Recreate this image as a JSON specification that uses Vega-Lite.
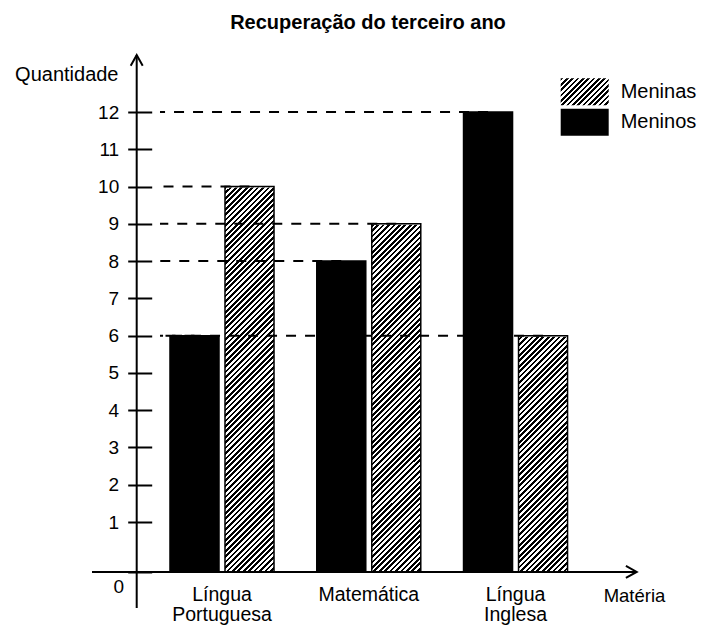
{
  "$schema": "https://vega.github.io/schema/vega-lite/v6.json",
  "width": 500,
  "height": 553,
  "autosize": {"type": "none"},
  "padding": {"left": 136.7, "top": 55, "right": 64.3, "bottom": 20},
  "title": {"text": "Recuperação do terceiro ano", "anchor": "middle", "frame": "group", "offset": 2, "baseline": "alphabetic", "dx": -18.7, "fontSize": 20, "font": "Liberation Sans", "fontWeight": "bold", "color": "#000"},
  "datasets": {
    "bars": [
      {"subject": "Língua Portuguesa", "gender": "Meninos", "value": 6},
      {"subject": "Língua Portuguesa", "gender": "Meninas", "value": 10},
      {"subject": "Matemática", "gender": "Meninos", "value": 8},
      {"subject": "Matemática", "gender": "Meninas", "value": 9},
      {"subject": "Língua Inglesa", "gender": "Meninos", "value": 12},
      {"subject": "Língua Inglesa", "gender": "Meninas", "value": 6}
    ]
  },
  "config": {"view": {"stroke": null}, "font": "Liberation Sans", "axis": {"labelColor": "#000", "titleColor": "#000"}, "legend": {"labelColor": "#000"}},
  "resolve": {"scale": {"x": "independent"}, "axis": {"x": "independent"}},
  "layer": [
    {
      "data": {"name": "bars"},
      "resolve": {"scale": {"strokeDash": "independent"}},
      "encoding": {
        "x": {"field": "subject", "type": "nominal", "scale": {"type": "band", "domain": ["Língua Portuguesa", "Matemática", "Língua Inglesa"], "paddingInner": 0.2913, "paddingOuter": 0.349, "align": 0.325},
          "axis": {"title": "Matéria", "orient": "bottom", "offset": -36, "domain": false, "ticks": false, "tickSize": 0, "labelAngle": 0, "labelExpr": "split(datum.label, ' ')", "labelFontSize": 19.5, "labelLineHeight": 20.5, "labelPadding": 13, "labelBaseline": "top", "labelColor": "#000", "titleFontSize": 18.5, "titleFontWeight": "normal", "titleX": 497.3, "titleY": 29.5, "titleAlign": "center", "titleBaseline": "alphabetic", "titleColor": "#000"}},
        "xOffset": {"field": "gender", "type": "nominal", "scale": {"domain": ["Meninos", "Meninas"], "paddingInner": 0.109, "paddingOuter": 0}}
      },
      "layer": [
        {
          "transform": [{"filter": "datum.gender === 'Meninas'"}],
          "mark": {"type": "bar", "strokeWidth": 0, "fill": {"gradient": "linear", "x1": 0, "y1": 0, "x2": 0.14103, "y2": 1.10923, "stops": [
            {"offset":0,"color":"#000"},{"offset":0.00625,"color":"#000"},{"offset":0.00625,"color":"#fff"},{"offset":0.0125,"color":"#fff"},{"offset":0.0125,"color":"#000"},{"offset":0.01875,"color":"#000"},{"offset":0.01875,"color":"#fff"},{"offset":0.025,"color":"#fff"},{"offset":0.025,"color":"#000"},{"offset":0.03125,"color":"#000"},{"offset":0.03125,"color":"#fff"},{"offset":0.0375,"color":"#fff"},{"offset":0.0375,"color":"#000"},{"offset":0.04375,"color":"#000"},{"offset":0.04375,"color":"#fff"},{"offset":0.05,"color":"#fff"},{"offset":0.05,"color":"#000"},{"offset":0.05625,"color":"#000"},{"offset":0.05625,"color":"#fff"},{"offset":0.0625,"color":"#fff"},{"offset":0.0625,"color":"#000"},{"offset":0.06875,"color":"#000"},{"offset":0.06875,"color":"#fff"},{"offset":0.075,"color":"#fff"},{"offset":0.075,"color":"#000"},{"offset":0.08125,"color":"#000"},{"offset":0.08125,"color":"#fff"},{"offset":0.0875,"color":"#fff"},{"offset":0.0875,"color":"#000"},{"offset":0.09375,"color":"#000"},{"offset":0.09375,"color":"#fff"},
            {"offset":0.1,"color":"#fff"},{"offset":0.1,"color":"#000"},{"offset":0.10625,"color":"#000"},{"offset":0.10625,"color":"#fff"},{"offset":0.1125,"color":"#fff"},{"offset":0.1125,"color":"#000"},{"offset":0.11875,"color":"#000"},{"offset":0.11875,"color":"#fff"},{"offset":0.125,"color":"#fff"},{"offset":0.125,"color":"#000"},{"offset":0.13125,"color":"#000"},{"offset":0.13125,"color":"#fff"},{"offset":0.1375,"color":"#fff"},{"offset":0.1375,"color":"#000"},{"offset":0.14375,"color":"#000"},{"offset":0.14375,"color":"#fff"},{"offset":0.15,"color":"#fff"},{"offset":0.15,"color":"#000"},{"offset":0.15625,"color":"#000"},{"offset":0.15625,"color":"#fff"},{"offset":0.1625,"color":"#fff"},{"offset":0.1625,"color":"#000"},{"offset":0.16875,"color":"#000"},{"offset":0.16875,"color":"#fff"},{"offset":0.175,"color":"#fff"},{"offset":0.175,"color":"#000"},{"offset":0.18125,"color":"#000"},{"offset":0.18125,"color":"#fff"},{"offset":0.1875,"color":"#fff"},{"offset":0.1875,"color":"#000"},{"offset":0.19375,"color":"#000"},{"offset":0.19375,"color":"#fff"},
            {"offset":0.2,"color":"#fff"},{"offset":0.2,"color":"#000"},{"offset":0.20625,"color":"#000"},{"offset":0.20625,"color":"#fff"},{"offset":0.2125,"color":"#fff"},{"offset":0.2125,"color":"#000"},{"offset":0.21875,"color":"#000"},{"offset":0.21875,"color":"#fff"},{"offset":0.225,"color":"#fff"},{"offset":0.225,"color":"#000"},{"offset":0.23125,"color":"#000"},{"offset":0.23125,"color":"#fff"},{"offset":0.2375,"color":"#fff"},{"offset":0.2375,"color":"#000"},{"offset":0.24375,"color":"#000"},{"offset":0.24375,"color":"#fff"},{"offset":0.25,"color":"#fff"},{"offset":0.25,"color":"#000"},{"offset":0.25625,"color":"#000"},{"offset":0.25625,"color":"#fff"},{"offset":0.2625,"color":"#fff"},{"offset":0.2625,"color":"#000"},{"offset":0.26875,"color":"#000"},{"offset":0.26875,"color":"#fff"},{"offset":0.275,"color":"#fff"},{"offset":0.275,"color":"#000"},{"offset":0.28125,"color":"#000"},{"offset":0.28125,"color":"#fff"},{"offset":0.2875,"color":"#fff"},{"offset":0.2875,"color":"#000"},{"offset":0.29375,"color":"#000"},{"offset":0.29375,"color":"#fff"},
            {"offset":0.3,"color":"#fff"},{"offset":0.3,"color":"#000"},{"offset":0.30625,"color":"#000"},{"offset":0.30625,"color":"#fff"},{"offset":0.3125,"color":"#fff"},{"offset":0.3125,"color":"#000"},{"offset":0.31875,"color":"#000"},{"offset":0.31875,"color":"#fff"},{"offset":0.325,"color":"#fff"},{"offset":0.325,"color":"#000"},{"offset":0.33125,"color":"#000"},{"offset":0.33125,"color":"#fff"},{"offset":0.3375,"color":"#fff"},{"offset":0.3375,"color":"#000"},{"offset":0.34375,"color":"#000"},{"offset":0.34375,"color":"#fff"},{"offset":0.35,"color":"#fff"},{"offset":0.35,"color":"#000"},{"offset":0.35625,"color":"#000"},{"offset":0.35625,"color":"#fff"},{"offset":0.3625,"color":"#fff"},{"offset":0.3625,"color":"#000"},{"offset":0.36875,"color":"#000"},{"offset":0.36875,"color":"#fff"},{"offset":0.375,"color":"#fff"},{"offset":0.375,"color":"#000"},{"offset":0.38125,"color":"#000"},{"offset":0.38125,"color":"#fff"},{"offset":0.3875,"color":"#fff"},{"offset":0.3875,"color":"#000"},{"offset":0.39375,"color":"#000"},{"offset":0.39375,"color":"#fff"},
            {"offset":0.4,"color":"#fff"},{"offset":0.4,"color":"#000"},{"offset":0.40625,"color":"#000"},{"offset":0.40625,"color":"#fff"},{"offset":0.4125,"color":"#fff"},{"offset":0.4125,"color":"#000"},{"offset":0.41875,"color":"#000"},{"offset":0.41875,"color":"#fff"},{"offset":0.425,"color":"#fff"},{"offset":0.425,"color":"#000"},{"offset":0.43125,"color":"#000"},{"offset":0.43125,"color":"#fff"},{"offset":0.4375,"color":"#fff"},{"offset":0.4375,"color":"#000"},{"offset":0.44375,"color":"#000"},{"offset":0.44375,"color":"#fff"},{"offset":0.45,"color":"#fff"},{"offset":0.45,"color":"#000"},{"offset":0.45625,"color":"#000"},{"offset":0.45625,"color":"#fff"},{"offset":0.4625,"color":"#fff"},{"offset":0.4625,"color":"#000"},{"offset":0.46875,"color":"#000"},{"offset":0.46875,"color":"#fff"},{"offset":0.475,"color":"#fff"},{"offset":0.475,"color":"#000"},{"offset":0.48125,"color":"#000"},{"offset":0.48125,"color":"#fff"},{"offset":0.4875,"color":"#fff"},{"offset":0.4875,"color":"#000"},{"offset":0.49375,"color":"#000"},{"offset":0.49375,"color":"#fff"},
            {"offset":0.5,"color":"#fff"},{"offset":0.5,"color":"#000"},{"offset":0.50625,"color":"#000"},{"offset":0.50625,"color":"#fff"},{"offset":0.5125,"color":"#fff"},{"offset":0.5125,"color":"#000"},{"offset":0.51875,"color":"#000"},{"offset":0.51875,"color":"#fff"},{"offset":0.525,"color":"#fff"},{"offset":0.525,"color":"#000"},{"offset":0.53125,"color":"#000"},{"offset":0.53125,"color":"#fff"},{"offset":0.5375,"color":"#fff"},{"offset":0.5375,"color":"#000"},{"offset":0.54375,"color":"#000"},{"offset":0.54375,"color":"#fff"},{"offset":0.55,"color":"#fff"},{"offset":0.55,"color":"#000"},{"offset":0.55625,"color":"#000"},{"offset":0.55625,"color":"#fff"},{"offset":0.5625,"color":"#fff"},{"offset":0.5625,"color":"#000"},{"offset":0.56875,"color":"#000"},{"offset":0.56875,"color":"#fff"},{"offset":0.575,"color":"#fff"},{"offset":0.575,"color":"#000"},{"offset":0.58125,"color":"#000"},{"offset":0.58125,"color":"#fff"},{"offset":0.5875,"color":"#fff"},{"offset":0.5875,"color":"#000"},{"offset":0.59375,"color":"#000"},{"offset":0.59375,"color":"#fff"},
            {"offset":0.6,"color":"#fff"},{"offset":0.6,"color":"#000"},{"offset":0.60625,"color":"#000"},{"offset":0.60625,"color":"#fff"},{"offset":0.6125,"color":"#fff"},{"offset":0.6125,"color":"#000"},{"offset":0.61875,"color":"#000"},{"offset":0.61875,"color":"#fff"},{"offset":0.625,"color":"#fff"},{"offset":0.625,"color":"#000"},{"offset":0.63125,"color":"#000"},{"offset":0.63125,"color":"#fff"},{"offset":0.6375,"color":"#fff"},{"offset":0.6375,"color":"#000"},{"offset":0.64375,"color":"#000"},{"offset":0.64375,"color":"#fff"},{"offset":0.65,"color":"#fff"},{"offset":0.65,"color":"#000"},{"offset":0.65625,"color":"#000"},{"offset":0.65625,"color":"#fff"},{"offset":0.6625,"color":"#fff"},{"offset":0.6625,"color":"#000"},{"offset":0.66875,"color":"#000"},{"offset":0.66875,"color":"#fff"},{"offset":0.675,"color":"#fff"},{"offset":0.675,"color":"#000"},{"offset":0.68125,"color":"#000"},{"offset":0.68125,"color":"#fff"},{"offset":0.6875,"color":"#fff"},{"offset":0.6875,"color":"#000"},{"offset":0.69375,"color":"#000"},{"offset":0.69375,"color":"#fff"},
            {"offset":0.7,"color":"#fff"},{"offset":0.7,"color":"#000"},{"offset":0.70625,"color":"#000"},{"offset":0.70625,"color":"#fff"},{"offset":0.7125,"color":"#fff"},{"offset":0.7125,"color":"#000"},{"offset":0.71875,"color":"#000"},{"offset":0.71875,"color":"#fff"},{"offset":0.725,"color":"#fff"},{"offset":0.725,"color":"#000"},{"offset":0.73125,"color":"#000"},{"offset":0.73125,"color":"#fff"},{"offset":0.7375,"color":"#fff"},{"offset":0.7375,"color":"#000"},{"offset":0.74375,"color":"#000"},{"offset":0.74375,"color":"#fff"},{"offset":0.75,"color":"#fff"},{"offset":0.75,"color":"#000"},{"offset":0.75625,"color":"#000"},{"offset":0.75625,"color":"#fff"},{"offset":0.7625,"color":"#fff"},{"offset":0.7625,"color":"#000"},{"offset":0.76875,"color":"#000"},{"offset":0.76875,"color":"#fff"},{"offset":0.775,"color":"#fff"},{"offset":0.775,"color":"#000"},{"offset":0.78125,"color":"#000"},{"offset":0.78125,"color":"#fff"},{"offset":0.7875,"color":"#fff"},{"offset":0.7875,"color":"#000"},{"offset":0.79375,"color":"#000"},{"offset":0.79375,"color":"#fff"},
            {"offset":0.8,"color":"#fff"},{"offset":0.8,"color":"#000"},{"offset":0.80625,"color":"#000"},{"offset":0.80625,"color":"#fff"},{"offset":0.8125,"color":"#fff"},{"offset":0.8125,"color":"#000"},{"offset":0.81875,"color":"#000"},{"offset":0.81875,"color":"#fff"},{"offset":0.825,"color":"#fff"},{"offset":0.825,"color":"#000"},{"offset":0.83125,"color":"#000"},{"offset":0.83125,"color":"#fff"},{"offset":0.8375,"color":"#fff"},{"offset":0.8375,"color":"#000"},{"offset":0.84375,"color":"#000"},{"offset":0.84375,"color":"#fff"},{"offset":0.85,"color":"#fff"},{"offset":0.85,"color":"#000"},{"offset":0.85625,"color":"#000"},{"offset":0.85625,"color":"#fff"},{"offset":0.8625,"color":"#fff"},{"offset":0.8625,"color":"#000"},{"offset":0.86875,"color":"#000"},{"offset":0.86875,"color":"#fff"},{"offset":0.875,"color":"#fff"},{"offset":0.875,"color":"#000"},{"offset":0.88125,"color":"#000"},{"offset":0.88125,"color":"#fff"},{"offset":0.8875,"color":"#fff"},{"offset":0.8875,"color":"#000"},{"offset":0.89375,"color":"#000"},{"offset":0.89375,"color":"#fff"},
            {"offset":0.9,"color":"#fff"},{"offset":0.9,"color":"#000"},{"offset":0.90625,"color":"#000"},{"offset":0.90625,"color":"#fff"},{"offset":0.9125,"color":"#fff"},{"offset":0.9125,"color":"#000"},{"offset":0.91875,"color":"#000"},{"offset":0.91875,"color":"#fff"},{"offset":0.925,"color":"#fff"},{"offset":0.925,"color":"#000"},{"offset":0.93125,"color":"#000"},{"offset":0.93125,"color":"#fff"},{"offset":0.9375,"color":"#fff"},{"offset":0.9375,"color":"#000"},{"offset":0.94375,"color":"#000"},{"offset":0.94375,"color":"#fff"},{"offset":0.95,"color":"#fff"},{"offset":0.95,"color":"#000"},{"offset":0.95625,"color":"#000"},{"offset":0.95625,"color":"#fff"},{"offset":0.9625,"color":"#fff"},{"offset":0.9625,"color":"#000"},{"offset":0.96875,"color":"#000"},{"offset":0.96875,"color":"#fff"},{"offset":0.975,"color":"#fff"},{"offset":0.975,"color":"#000"},{"offset":0.98125,"color":"#000"},{"offset":0.98125,"color":"#fff"},{"offset":0.9875,"color":"#fff"},{"offset":0.9875,"color":"#000"},{"offset":0.99375,"color":"#000"},{"offset":0.99375,"color":"#fff"},
            {"offset":1,"color":"#fff"}
          ]}},
          "encoding": {
            "y": {"datum": 10, "type": "quantitative"},
            "y2": {"datum": -0.34}
          }
        },
        {
          "transform": [{"filter": "datum.gender === 'Meninas'"}],
          "mark": {"type": "bar", "fill": "#fff", "stroke": "#fff", "strokeWidth": 2},
          "encoding": {
            "y": {"field": "value", "type": "quantitative"},
            "y2": {"datum": 10}
          }
        },
        {
          "mark": {"type": "bar", "stroke": "#000", "strokeWidth": 1.5},
          "encoding": {
            "y": {"field": "value", "type": "quantitative", "scale": {"domain": [-1.307, 13.53], "nice": false, "zero": false},
              "axis": {"title": "Quantidade", "values": [-0.34, 1, 2, 3, 4, 5, 6, 7, 8, 9, 10, 11, 12], "labelExpr": "datum.value < 0 ? '0' : datum.label", "offset": -15, "domain": false, "grid": false, "tickSize": 24, "tickWidth": 2, "tickColor": "#000", "labelPadding": {"condition": {"test": "datum.value < 0", "value": 4}, "value": 9}, "labelBaseline": {"condition": {"test": "datum.value < 0", "value": "top"}, "value": "middle"}, "labelOffset": {"condition": {"test": "datum.value < 0", "value": 6}, "value": 0}, "labelFontSize": 19, "labelColor": "#000", "labelFlush": false, "labelOverlap": false, "titleAngle": 0, "titleAlign": "right", "titleBaseline": "alphabetic", "titleX": -33.7, "titleY": 25.7, "titleFontSize": 20, "titleFontWeight": "normal", "titleColor": "#000"}},
            "y2": {"datum": -0.34},
            "fill": {"condition": {"test": "datum.gender === 'Meninos'", "value": "#000"}, "value": "transparent"}
          }
        },
        {
          "transform": [{"filter": "datum.gender === 'Meninas'"}],
          "mark": {"type": "bar", "opacity": 0, "stroke": "#000", "fill": {"gradient": "linear", "x1": 0, "y1": 0, "x2": 1.187, "y2": 0.6677, "stops": [
            {"offset":0,"color":"#000"},{"offset":0.0357,"color":"#000"},{"offset":0.0357,"color":"#fff"},{"offset":0.0714,"color":"#fff"},{"offset":0.0714,"color":"#000"},{"offset":0.1071,"color":"#000"},{"offset":0.1071,"color":"#fff"},{"offset":0.1429,"color":"#fff"},{"offset":0.1429,"color":"#000"},{"offset":0.1786,"color":"#000"},{"offset":0.1786,"color":"#fff"},{"offset":0.2143,"color":"#fff"},{"offset":0.2143,"color":"#000"},{"offset":0.25,"color":"#000"},{"offset":0.25,"color":"#fff"},{"offset":0.2857,"color":"#fff"},{"offset":0.2857,"color":"#000"},{"offset":0.3214,"color":"#000"},{"offset":0.3214,"color":"#fff"},{"offset":0.3571,"color":"#fff"},{"offset":0.3571,"color":"#000"},{"offset":0.3929,"color":"#000"},{"offset":0.3929,"color":"#fff"},{"offset":0.4286,"color":"#fff"},{"offset":0.4286,"color":"#000"},{"offset":0.4643,"color":"#000"},{"offset":0.4643,"color":"#fff"},{"offset":0.5,"color":"#fff"},{"offset":0.5,"color":"#000"},{"offset":0.5357,"color":"#000"},{"offset":0.5357,"color":"#fff"},{"offset":0.5714,"color":"#fff"},{"offset":0.5714,"color":"#000"},{"offset":0.6071,"color":"#000"},{"offset":0.6071,"color":"#fff"},{"offset":0.6429,"color":"#fff"},{"offset":0.6429,"color":"#000"},{"offset":0.6786,"color":"#000"},{"offset":0.6786,"color":"#fff"},{"offset":0.7143,"color":"#fff"},{"offset":0.7143,"color":"#000"},{"offset":0.75,"color":"#000"},{"offset":0.75,"color":"#fff"},{"offset":0.7857,"color":"#fff"},{"offset":0.7857,"color":"#000"},{"offset":0.8214,"color":"#000"},{"offset":0.8214,"color":"#fff"},{"offset":0.8571,"color":"#fff"},{"offset":0.8571,"color":"#000"},{"offset":0.8929,"color":"#000"},{"offset":0.8929,"color":"#fff"},{"offset":0.9286,"color":"#fff"},{"offset":0.9286,"color":"#000"},{"offset":0.9643,"color":"#000"},{"offset":0.9643,"color":"#fff"},{"offset":1,"color":"#fff"}
          ]}},
          "encoding": {
            "y": {"field": "value", "type": "quantitative"},
            "y2": {"datum": -0.34},
            "strokeDash": {"field": "gender", "type": "nominal", "scale": {"range": [[1, 0]]},
              "legend": {"title": null, "orient": "none", "legendX": 432, "legendY": 20.8, "padding": 0, "symbolType": "M-1.6,-0.9H1.6V0.9H-1.6Z", "symbolSize": 900, "symbolStrokeColor": "#000", "symbolStrokeWidth": 1.5, "symbolOpacity": 1, "labelFontSize": 20, "labelColor": "#000", "labelOffset": 20, "labelBaseline": "middle"}}
          }
        },
        {
          "transform": [{"filter": "datum.gender === 'Meninos'"}],
          "mark": {"type": "bar", "opacity": 0, "stroke": "#000", "fill": "#000"},
          "encoding": {
            "y": {"field": "value", "type": "quantitative"},
            "y2": {"datum": -0.34},
            "strokeDash": {"field": "gender", "type": "nominal", "scale": {"range": [[1, 0]]},
              "legend": {"title": null, "orient": "none", "legendX": 432, "legendY": 51.2, "padding": 0, "symbolType": "M-1.6,-0.9H1.6V0.9H-1.6Z", "symbolSize": 900, "symbolStrokeColor": "#000", "symbolStrokeWidth": 1.5, "symbolOpacity": 1, "labelFontSize": 20, "labelColor": "#000", "labelOffset": 20, "labelBaseline": "middle"}}
          }
        },
        {
          "mark": {"type": "rule", "color": "#000", "strokeWidth": 2, "strokeDash": [10, 9], "x2Offset": -10},
          "encoding": {
            "x": {"field": "subject", "type": "nominal", "bandPosition": 0},
            "x2": {"datum": "Língua Portuguesa", "bandPosition": 0},
            "y": {"field": "value", "type": "quantitative"}
          }
        }
      ]
    },
    {
      "data": {"values": [{}]},
      "layer": [
        {
          "mark": {"type": "rule", "color": "#000", "strokeWidth": 2},
          "encoding": {
            "x": {"datum": 0, "type": "quantitative", "scale": {"domain": [0, 1], "nice": false, "zero": false}, "axis": null},
            "y": {"datum": -1.307, "type": "quantitative"},
            "y2": {"datum": 13.53}
          }
        },
        {
          "mark": {"type": "rule", "color": "#000", "strokeWidth": 2, "xOffset": -44.7},
          "encoding": {
            "x": {"datum": 0, "type": "quantitative", "axis": null},
            "x2": {"datum": 1},
            "y": {"datum": -0.34, "type": "quantitative"}
          }
        },
        {
          "mark": {"type": "point", "shape": "M-1,1.8L0,0L1,1.8", "size": 144, "filled": false, "strokeWidth": 2, "color": "#000", "opacity": 1},
          "encoding": {
            "x": {"datum": 0, "type": "quantitative", "axis": null},
            "y": {"datum": 13.53, "type": "quantitative"}
          }
        },
        {
          "mark": {"type": "point", "shape": "M-1.8,-1L0,0L-1.8,1", "size": 144, "filled": false, "strokeWidth": 2, "color": "#000", "opacity": 1},
          "encoding": {
            "x": {"datum": 1, "type": "quantitative", "axis": null},
            "y": {"datum": -0.34, "type": "quantitative"}
          }
        }
      ]
    }
  ]
}
